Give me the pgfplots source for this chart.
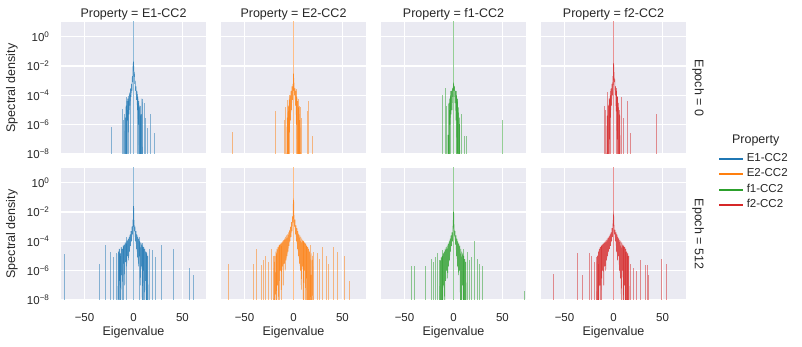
\documentclass[border=0pt]{standalone}
\usepackage{fontspec}
\setmainfont{Liberation Sans}
\usepackage{pgfplots}
\pgfplotsset{compat=1.18}
\definecolor{bgc}{HTML}{EAEAF2}
\definecolor{txt}{HTML}{262626}
\definecolor{c1}{HTML}{1F77B4}
\definecolor{c2}{HTML}{FF7F0E}
\definecolor{c3}{HTML}{2CA02C}
\definecolor{c4}{HTML}{D62728}

\pgfplotsset{
  mypanel/.style={
    width=145pt, height=132pt, scale only axis, anchor=south west,
    xmin=-74, xmax=74, ymin=1e-8, ymax=10,
    axis background/.style={fill=bgc},
    grid=major, grid style={white, line width=1.2pt},
    axis line style={draw=none}, major tick length=0pt,
    xtick={-50,0,50}, ytick={1e-8,1e-6,1e-4,1e-2,1},
    xticklabels={}, yticklabels={},
    tick label style={font=\fontsize{11.5}{13}\selectfont, text=txt},
    xticklabel style={yshift=-10pt},
    yticklabel style={xshift=-8pt},
    title style={font=\fontsize{12.5}{14}\selectfont, text=txt, at={(axis description cs:0.5,1)}, anchor=base, yshift=-1.5pt},
    label style={font=\fontsize{12.5}{14}\selectfont, text=txt},
  },
  myleft/.style={
    yticklabels={10\textsuperscript{−8},10\textsuperscript{−6},10\textsuperscript{−4},10\textsuperscript{−2},10\textsuperscript{0}},
    ylabel={Spectral density},
    ylabel style={at={(axis description cs:-0.338,0.5)}, anchor=center},
  },
  mybottom/.style={
    xticklabels={−50,0,50}, xlabel={Eigenvalue},
    xlabel style={at={(axis description cs:0.5,-0.245)}, anchor=center},
  },
  myenv/.style={line width=0.6pt, opacity=0.8, forget plot},
  myspk/.style={ycomb, line width=0.6pt, opacity=0.5, forget plot},
}

\begin{document}
\begin{tikzpicture}
\useasboundingbox (0,0) rectangle (802pt,347pt);

% ---------- Epoch = 0 ----------
\begin{axis}[ymode=log, log origin y=infty, mypanel, myleft, at={(61pt,193pt)}, title={Property = E1-CC2}]
\addplot[c1, myenv] coordinates {(-9,1e-9)(-8.5,3e-6)(-8,1e-9)(-7.6,2e-5)(-7.2,1e-8)(-6.8,4e-5)(-6.3,2e-6)(-5.9,6e-5)(-5.4,3e-7)(-5,9e-5)(-4.5,5e-6)(-4,1.5e-4)(-3.5,2e-5)(-3,3e-4)(-2.5,8e-5)(-2,6e-4)(-1.6,2e-4)(-1.2,2e-3)(-0.8,8e-4)(-0.4,1.5e-2)(-0.2,5e-3)(0,2e-2)(0.2,1e-2)(0.5,2e-3)(0.9,4e-3)(1.3,6e-4)(1.7,1e-3)(2.1,2e-4)(2.6,4e-4)(3,5e-5)(3.5,2e-4)(4,1e-5)(4.5,8e-5)(5,1e-6)(5.5,4e-5)(6,1e-8)(6.5,2e-5)(7,1e-9)(7.5,5e-6)(8,1e-9)(8.6,6e-5)(9,1e-9)};
\addplot[c1, myspk] coordinates {(0,12)(-22.8,7e-7)(-11.5,1.2e-5)(-10.2,2e-6)(-9,5e-6)(-7.8,8e-5)(-6.2,1e-5)(-5,4e-5)(-3.3,1e-4)(3.8,1.2e-4)(5.3,3e-5)(6.8,2e-5)(8.5,6e-5)(10.9,3e-5)(12.3,3e-6)(14,6e-7)(17.4,5e-6)(20.8,2.5e-7)};
\end{axis}

\begin{axis}[ymode=log, log origin y=infty, mypanel, at={(221pt,193pt)}, title={Property = E2-CC2}]
\addplot[c2, myenv] coordinates {(-7,1e-9)(-6.5,3e-6)(-6,1e-8)(-5.5,2e-5)(-5,1e-9)(-4.5,5e-5)(-4,3e-7)(-3.5,1e-4)(-3,2e-6)(-2.5,2e-4)(-2,1e-5)(-1.5,4e-4)(-1,5e-5)(-0.6,6e-4)(-0.3,2e-4)(0,3e-3)(0.3,1e-3)(0.6,5e-4)(1,1e-4)(1.5,3e-4)(2,2e-5)(2.5,2e-4)(3,1e-6)(3.5,8e-5)(4,1e-8)(4.5,4e-5)(5,1e-9)(5.5,1.5e-5)(6,1e-9)(6.5,2e-6)(7,1e-9)};
\addplot[c2, myspk] coordinates {(0,12)(-62.2,3e-7)(-18.4,8e-6)(-9,2e-6)(-8.2,1.6e-5)(-6.8,5e-5)(-5.8,8e-6)(-4.2,1e-4)(2.7,2.5e-4)(4.5,6e-5)(5.5,2e-5)(6.8,1.6e-5)(8,3e-6)(13.7,8e-6)(15,4e-5)(18.7,1.6e-7)};
\end{axis}

\begin{axis}[ymode=log, log origin y=infty, mypanel, at={(381pt,193pt)}, title={Property = f1-CC2}]
\addplot[c3, myenv] coordinates {(-6,1e-9)(-5.6,2e-7)(-5.2,1e-9)(-4.8,3e-5)(-4.4,1e-8)(-4,6e-5)(-3.5,1e-6)(-3,1e-4)(-2.5,5e-6)(-2,2e-4)(-1.5,1e-5)(-1,3e-4)(-0.5,8e-5)(-0.2,4e-4)(0,6e-4)(0.3,5e-4)(0.7,2e-4)(1,4e-4)(1.5,3e-5)(2,2e-4)(2.5,2e-6)(3,1e-4)(3.5,1e-8)(4,6e-5)(4.5,1e-9)(5,1.5e-5)(5.5,1e-9)(6,3e-6)(6.5,1e-9)};
\addplot[c3, myspk] coordinates {(0,12)(-11.2,1e-4)(-8.2,3e-4)(-7,2e-5)(-5.7,2e-7)(-4.5,1e-5)(-3,2e-4)(2.5,2e-4)(4.1,6e-5)(6.1,1.2e-6)(7.5,5e-6)(10.6,1.6e-7)(12.6,1.6e-7)(50,2e-6)};
\end{axis}

\begin{axis}[ymode=log, log origin y=infty, mypanel, at={(541pt,193pt)}, title={Property = f2-CC2},
  legend entries={E1-CC2,E2-CC2,f1-CC2,f2-CC2}, legend cell align=left,
  legend image code/.code={\draw[#1] (0pt,0pt) -- (24pt,0pt);},
  legend style={at={(axis description cs:1.221,-0.212)}, anchor=west, draw=none, fill=none,
    inner sep=0pt, row sep=0pt, font=\fontsize{11.5}{13}\selectfont, text=txt,
    nodes={inner sep=2.5pt, text height=8pt, text depth=2.5pt}}]
\addlegendimage{c1, line width=2pt}
\addlegendimage{c2, line width=2pt}
\addlegendimage{c3, line width=2pt}
\addlegendimage{c4, line width=2pt}
\addplot[c4, myenv] coordinates {(-7,1e-9)(-6.5,4e-6)(-6,1e-9)(-5.5,2e-5)(-5,1e-8)(-4.5,6e-5)(-4,1e-7)(-3.5,1e-4)(-3,3e-6)(-2.5,3e-4)(-2,2e-5)(-1.5,6e-4)(-1,1e-4)(-0.6,2e-3)(-0.3,5e-4)(0,1.5e-2)(0.2,1.2e-2)(0.5,3e-3)(0.9,8e-4)(1.3,1.2e-3)(1.7,1e-4)(2.2,4e-4)(2.7,8e-6)(3.2,2e-4)(3.7,1e-7)(4.2,8e-5)(4.7,1e-9)(5.2,3e-5)(5.7,1e-9)(6.3,5e-6)(7,1e-9)};
\addplot[c4, myspk] coordinates {(0,12)(-9.5,2e-5)(-8,1e-5)(-6.4,1.8e-4)(-4.8,5e-5)(-3.2,2e-4)(2.8,3e-4)(4.1,8e-5)(5.8,1e-5)(8.2,8e-5)(10,3e-6)(14.3,4e-5)(17,2.5e-7)(43.9,5e-6)};
\end{axis}

% ---------- Epoch = 512 ----------
\begin{axis}[ymode=log, log origin y=infty, mypanel, myleft, mybottom, at={(61pt,47pt)}]
\addplot[c1, myenv] coordinates {(-16,1e-9)(-15.5,2e-5)(-15,1e-8)(-14.5,3e-5)(-14,2e-7)(-13.5,1.5e-5)(-13,1e-9)(-12.5,4e-5)(-12,5e-7)(-11.5,3e-5)(-11,1e-8)(-10.5,5e-5)(-10,3e-6)(-9.5,6e-5)(-9,1e-7)(-8.5,8e-5)(-8,4e-6)(-7.5,1e-4)(-7,2e-6)(-6.5,1.2e-4)(-6,1e-5)(-5.5,1.5e-4)(-5,5e-6)(-4.5,2e-4)(-4,2e-5)(-3.5,3e-4)(-3,5e-5)(-2.5,5e-4)(-2,1e-4)(-1.5,1e-3)(-1,3e-4)(-0.5,3e-3)(-0.2,1e-3)(0,2.5e-2)(0.2,1.8e-2)(0.5,2e-3)(1,6e-4)(1.5,8e-4)(2,1e-4)(2.5,5e-4)(3,3e-5)(3.5,3e-4)(4,8e-6)(4.5,2e-4)(5,2e-6)(5.5,1.5e-4)(6,1e-5)(6.5,1e-4)(7,1e-7)(7.5,8e-5)(8,2e-6)(8.5,7e-5)(9,1e-8)(9.5,5e-5)(10,1e-6)(10.5,4e-5)(11,1e-9)(11.5,3e-5)(12,2e-7)(12.5,2e-5)(13,1e-9)(13.5,1.5e-5)(14,1e-8)(14.5,1e-5)(15,1e-9)};
\addplot[c1, myspk] coordinates {(0,15)(-70.4,1.3e-5)(-34.7,3e-6)(-28.6,6e-5)(-23.8,2e-5)(-20.5,8e-6)(-18,1.6e-5)(-15,3e-5)(-13,1e-5)(-10,4e-5)(-7,2e-4)(6,2e-4)(9,8e-5)(10.2,3e-5)(13,2e-5)(16,3e-5)(18.8,2.5e-5)(22,8e-6)(28,5.6e-5)(40.5,3e-5)(56.5,1.6e-6)(60.6,5e-7)};
\end{axis}

\begin{axis}[ymode=log, log origin y=infty, mypanel, mybottom, at={(221pt,47pt)}]
\addplot[c2, myenv] coordinates {(-20,1e-9)(-19.5,1e-5)(-19,1e-9)(-18,2e-5)(-17.5,1e-8)(-17,3e-5)(-16.5,1e-7)(-16,4e-5)(-15.5,1e-9)(-15,5e-5)(-14.5,2e-7)(-14,6e-5)(-13.5,1e-6)(-13,7e-5)(-12.5,5e-8)(-12,8e-5)(-11.5,2e-6)(-11,1e-4)(-10.5,1e-7)(-10,1.2e-4)(-9.5,3e-6)(-9,1.5e-4)(-8.5,1e-6)(-8,2e-4)(-7.5,5e-6)(-7,2.5e-4)(-6.5,1e-5)(-6,3e-4)(-5.5,2e-5)(-5,4e-4)(-4.5,5e-5)(-4,6e-4)(-3.5,1e-4)(-3,1e-3)(-2.5,2e-4)(-2,2e-3)(-1.5,5e-4)(-1,5e-3)(-0.5,2e-3)(-0.2,4e-2)(0,6e-2)(0.2,5e-2)(0.5,4e-3)(1,1e-3)(1.5,3e-3)(2,3e-4)(2.5,1.2e-3)(3,1e-4)(3.5,8e-4)(4,3e-5)(4.5,5e-4)(5,1e-5)(5.5,3e-4)(6,3e-6)(6.5,2.5e-4)(7,1e-6)(7.5,2e-4)(8,5e-8)(8.5,1.5e-4)(9,2e-6)(9.5,1.2e-4)(10,1e-8)(10.5,1e-4)(11,1e-6)(11.5,8e-5)(12,1e-9)(12.5,7e-5)(13,3e-7)(13.5,5e-5)(14,1e-9)(14.5,4e-5)(15,1e-8)(15.5,3e-5)(16,1e-9)(16.5,2e-5)(17,1e-9)(18,1.5e-5)(18.5,1e-9)(19.5,1e-5)(20,1e-9)};
\addplot[c2, myspk] coordinates {(0,20)(-66.3,3e-6)(-40.8,3e-6)(-38.4,3e-5)(-33.3,2.5e-6)(-30.6,5e-6)(-28.9,1e-5)(-26,4e-6)(-23.1,3e-5)(-21.1,1e-5)(-17.7,1.6e-5)(-15,6e-5)(-12,5e-5)(10,1e-4)(13,5e-5)(17,6e-5)(20,2e-5)(23.8,1.6e-5)(26,6e-6)(29,4e-5)(33.4,1e-5)(36,3e-6)(40.2,4e-5)(44.2,2e-5)(52,1e-5)(57.1,2e-7)};
\end{axis}

\begin{axis}[ymode=log, log origin y=infty, mypanel, mybottom, at={(381pt,47pt)}]
\addplot[c3, myenv] coordinates {(-14,1e-9)(-13.5,5e-6)(-13,1e-9)(-12.5,8e-6)(-12,1e-8)(-11.5,1e-5)(-11,1e-9)(-10.5,1.5e-5)(-10,1e-7)(-9.5,2e-5)(-9,1e-9)(-8.5,3e-5)(-8,2e-7)(-7.5,4e-5)(-7,1e-6)(-6.5,5e-5)(-6,3e-7)(-5.5,7e-5)(-5,2e-6)(-4.5,1e-4)(-4,5e-6)(-3.5,1.5e-4)(-3,2e-5)(-2.5,2.5e-4)(-2,5e-5)(-1.5,4e-4)(-1,1e-4)(-0.5,1e-3)(-0.2,3e-3)(0,1e-2)(0.2,8e-3)(0.5,1e-3)(1,3e-4)(1.5,5e-4)(2,6e-5)(2.5,2.5e-4)(3,1e-5)(3.5,1.5e-4)(4,2e-6)(4.5,1e-4)(5,5e-7)(5.5,7e-5)(6,1e-6)(6.5,5e-5)(7,1e-8)(7.5,3e-5)(8,1e-9)(8.5,2e-5)(9,1e-7)(9.5,1.5e-5)(10,1e-9)(10.5,1e-5)(11,1e-9)(11.5,6e-6)(12,1e-9)(12.5,4e-6)(13,1e-9)};
\addplot[c3, myspk] coordinates {(0,15)(-43.2,2e-6)(-40.4,2e-6)(-28.9,2e-6)(-23,6e-6)(-21,4e-6)(-19,8e-6)(-17,1.6e-5)(-15,5e-6)(-11.9,2.5e-5)(10,3e-5)(13.6,2e-5)(16,5e-6)(18,8e-6)(21.4,1e-4)(23.8,6e-6)(26,3e-6)(28.9,2e-6)(72.4,4e-8)};
\end{axis}

\begin{axis}[ymode=log, log origin y=infty, mypanel, mybottom, at={(541pt,47pt)}]
\addplot[c4, myenv] coordinates {(-17,1e-9)(-16.5,1e-5)(-16,1e-9)(-15.5,2e-5)(-15,1e-8)(-14.5,3e-5)(-14,1e-7)(-13.5,4e-5)(-13,1e-9)(-12.5,5e-5)(-12,3e-7)(-11.5,6e-5)(-11,1e-6)(-10.5,7e-5)(-10,1e-7)(-9.5,8e-5)(-9,2e-6)(-8.5,1e-4)(-8,1e-6)(-7.5,1.2e-4)(-7,5e-6)(-6.5,1.5e-4)(-6,1e-5)(-5.5,1.8e-4)(-5,2e-5)(-4.5,2.2e-4)(-4,3e-5)(-3.5,3e-4)(-3,5e-5)(-2.5,4e-4)(-2,1e-4)(-1.5,8e-4)(-1,2e-4)(-0.5,1.5e-3)(-0.2,3e-3)(0,6e-3)(0.2,5e-3)(0.5,1e-3)(1,3e-4)(1.5,6e-4)(2,1e-4)(2.5,4e-4)(3,2e-5)(3.5,3e-4)(4,5e-6)(4.5,2e-4)(5,1e-5)(5.5,1.5e-4)(6,1e-6)(6.5,1.2e-4)(7,3e-7)(7.5,1e-4)(8,1e-8)(8.5,8e-5)(9,1e-6)(9.5,6e-5)(10,1e-9)(10.5,5e-5)(11,1e-7)(11.5,4e-5)(12,1e-9)(12.5,3e-5)(13,1e-8)(13.5,2e-5)(14,1e-9)(14.5,1.5e-5)(15,1e-9)(15.5,1e-5)(16,1e-9)};
\addplot[c4, myspk] coordinates {(0,15)(-61.2,6e-7)(-37.4,1.6e-5)(-31.6,5e-7)(-24.5,1.6e-5)(-22.8,1e-5)(-20,4e-6)(-18,8e-6)(-15.3,3e-6)(-12,5e-5)(10,4e-5)(12,2e-5)(14.3,1e-5)(17,3e-6)(20.4,1.6e-6)(23.1,1e-6)(27,5e-6)(32.3,2.5e-6)(34,2.5e-6)(35.7,5e-7)(48.3,6e-6)(53.4,3e-6)};
\end{axis}

\node[font=\fontsize{12.5}{14}\selectfont, text=txt, rotate=-90] at (698pt,259pt) {Epoch = 0};
\node[font=\fontsize{12.5}{14}\selectfont, text=txt, rotate=-90] at (698pt,113pt) {Epoch = 512};
\node[font=\fontsize{12.5}{14}\selectfont, text=txt] at (755.7pt,206.3pt) {Property};
\end{tikzpicture}
\end{document}
